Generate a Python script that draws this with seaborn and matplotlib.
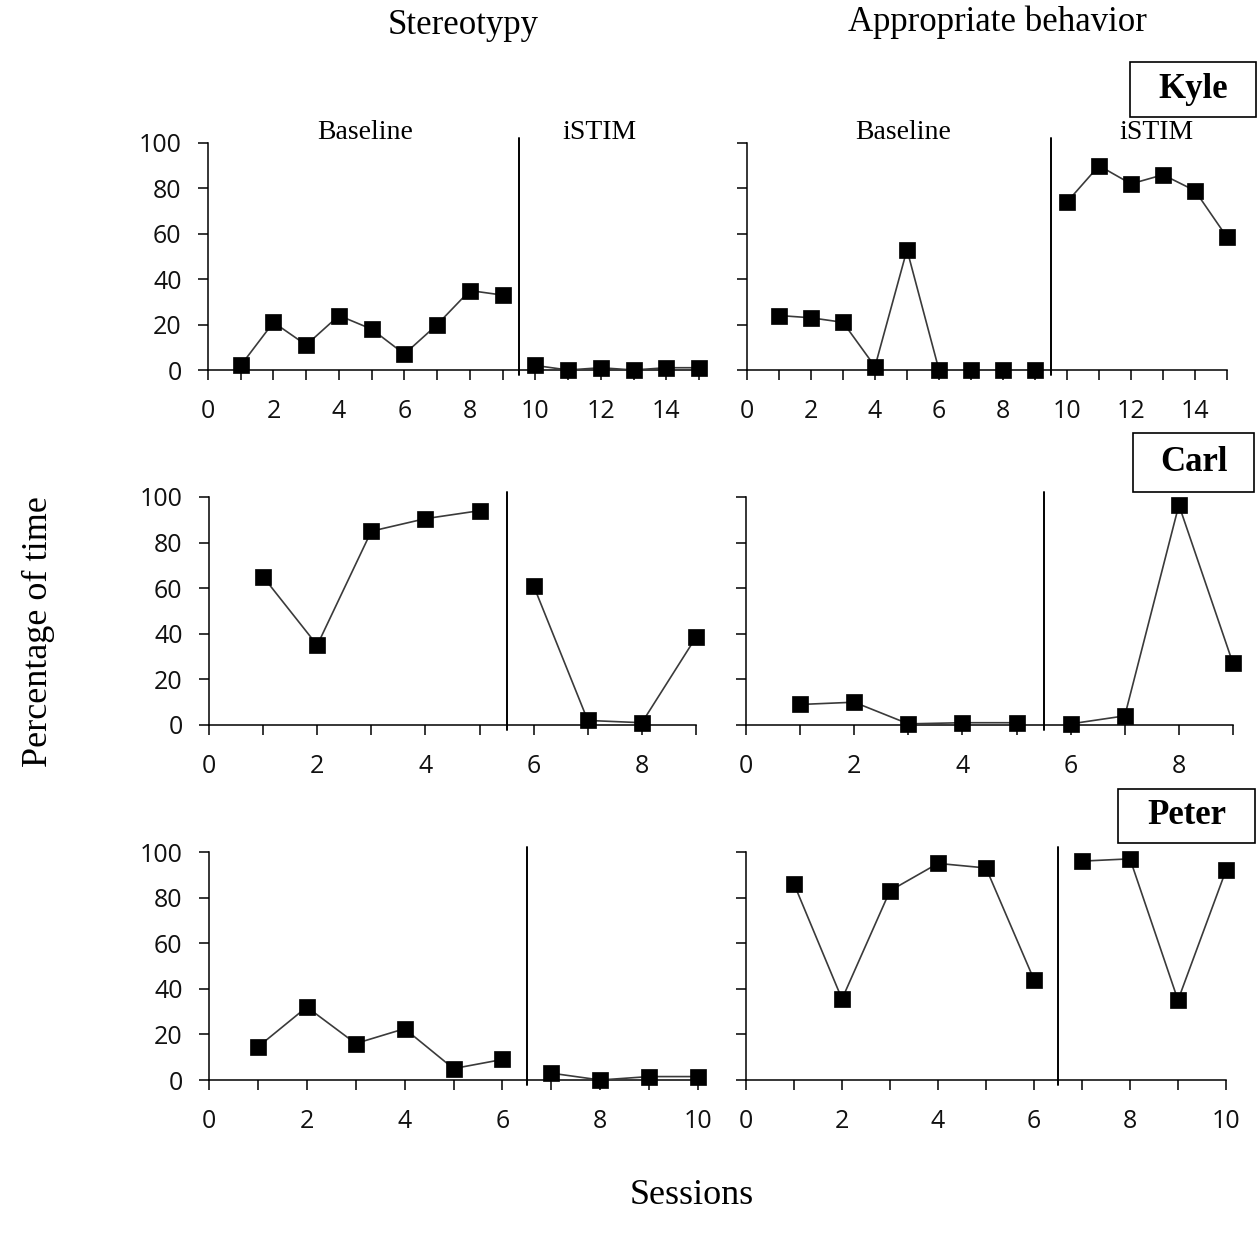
import matplotlib
matplotlib.use("Agg")
import matplotlib.pyplot as plt
from matplotlib.patches import Rectangle
import seaborn as sns
import pandas as pd

sns.set_style("ticks")
plt.rcParams["font.family"] = ["Open Sans", "DejaVu Sans"]
plt.rcParams["text.color"] = "black"

# ---------------- data ----------------
participants = ["Kyle", "Carl", "Peter"]
columns = ["Stereotypy", "Appropriate behavior"]
phase_names = ["Baseline", "iSTIM"]

kyle_base_sessions = [1, 2, 3, 4, 5, 6, 7, 8, 9]
kyle_istim_sessions = [10, 11, 12, 13, 14, 15]
kyle_stereo_base = [2, 21, 11, 24, 18, 7, 20, 35, 33]
kyle_stereo_istim = [2, 0, 1, 0, 1, 1]
kyle_approp_base = [24, 23, 21, 1.5, 53, 0, 0, 0, 0]
kyle_approp_istim = [74, 90, 82, 86, 79, 58.5]

carl_base_sessions = [1, 2, 3, 4, 5]
carl_istim_sessions = [6, 7, 8, 9]
carl_stereo_base = [65, 35, 85, 90.5, 94]
carl_stereo_istim = [61, 2, 1, 38.5]
carl_approp_base = [9, 10, 0.5, 1, 1]
carl_approp_istim = [0.5, 4, 96.5, 27]

peter_base_sessions = [1, 2, 3, 4, 5, 6]
peter_istim_sessions = [7, 8, 9, 10]
peter_stereo_base = [14.5, 32, 16, 22.5, 5, 9]
peter_stereo_istim = [3, 0, 1.5, 1.5]
peter_approp_base = [86, 35.5, 83, 95, 93, 44]
peter_approp_istim = [96, 97, 35, 92]

x_max = [15, 9, 10]
phase_change = [9.5, 5.5, 6.5]

sessions = [
    (kyle_base_sessions, kyle_istim_sessions),
    (carl_base_sessions, carl_istim_sessions),
    (peter_base_sessions, peter_istim_sessions),
]
values = [
    [(kyle_stereo_base, kyle_stereo_istim), (kyle_approp_base, kyle_approp_istim)],
    [(carl_stereo_base, carl_stereo_istim), (carl_approp_base, carl_approp_istim)],
    [(peter_stereo_base, peter_stereo_istim), (peter_approp_base, peter_approp_istim)],
]

# ---------------- layout ----------------
W, H = 1259, 1243
fig = plt.figure(figsize=(W / 100, H / 100), dpi=100)

def fx(px):
    return px / W

def fy(py):
    return 1 - py / H

# (left px, right px, top px, bottom px)
ax_boxes = [
    [(208, 699, 143, 370), (747, 1227, 143, 370)],
    [(209, 696, 497, 725), (746, 1233, 497, 725)],
    [(209, 698, 852, 1080), (746, 1226, 852, 1080)],
]

tick_family = ["Open Sans", "DejaVu Sans"]
serif = ["Liberation Serif", "DejaVu Serif"]

for r in range(3):
    for c in range(2):
        l, rt, t, b = ax_boxes[r][c]
        ax = fig.add_axes([fx(l), fy(b), fx(rt) - fx(l), (b - t) / H])
        for p in range(2):
            df = pd.DataFrame({"Session": sessions[r][p], "Percent": values[r][c][p]})
            sns.lineplot(data=df, x="Session", y="Percent", ax=ax, color="#3a3a3a",
                         linewidth=1.2, marker="s", markersize=12,
                         markerfacecolor="black", markeredgecolor="black",
                         markeredgewidth=0.5, estimator=None, sort=False,
                         clip_on=False, zorder=3)
        ax.axvline(phase_change[r], ymin=-0.02, ymax=1.02, color="black",
                   linewidth=1.4, clip_on=False, zorder=2)
        ax.set_xlim(0, x_max[r])
        ax.set_ylim(0, 100)
        ax.set_xticks(range(0, x_max[r] + 1))
        ax.set_xticklabels([str(v) if v % 2 == 0 else "" for v in range(0, x_max[r] + 1)])
        ax.set_yticks(range(0, 101, 20))
        if c == 0:
            ax.set_yticklabels([str(v) for v in range(0, 101, 20)])
        else:
            ax.set_yticklabels([])
        ax.set_xlabel("")
        ax.set_ylabel("")
        for s in ["top", "right"]:
            ax.spines[s].set_visible(False)
        for s in ["left", "bottom"]:
            ax.spines[s].set_linewidth(1.1)
            ax.spines[s].set_color("black")
        ax.tick_params(axis="both", direction="out", length=7, width=1.1,
                       color="black", labelsize=18, labelcolor="#111111")
        ax.tick_params(axis="y", pad=12)
        ax.tick_params(axis="x", pad=14)
        for lab in ax.get_xticklabels() + ax.get_yticklabels():
            lab.set_family(tick_family)
        if r == 0:
            base_x = 4.8 if c == 0 else 4.87
            istim_x = 11.95 if c == 0 else 12.8
            ax.text(base_x, 104.5, phase_names[0], ha="center", va="center",
                    family=serif, fontsize=20)
            ax.text(istim_x, 104.5, phase_names[1], ha="center", va="center",
                    family=serif, fontsize=20)

# column titles
fig.text(fx(463), fy(25), columns[0], ha="center", va="center", family=serif, fontsize=25)
fig.text(fx(997), fy(22), columns[1], ha="center", va="center", family=serif, fontsize=25)
fig.text(fx(38), fy(632), "Percentage of time", ha="center", va="center",
         rotation=90, family=serif, fontsize=26)
fig.text(fx(692), fy(1195), "Sessions", ha="center", va="center", family=serif, fontsize=26)

# participant name boxes (left, right, top, bottom in px)
name_boxes = [(1130, 1256, 62, 117), (1133, 1254, 433, 492), (1118, 1255, 789, 843)]
for name, (l, rt, t, b) in zip(participants, name_boxes):
    fig.patches.append(Rectangle((fx(l), fy(b)), fx(rt) - fx(l), (b - t) / H,
                                 transform=fig.transFigure, facecolor="white",
                                 edgecolor="black", linewidth=1.2))
    fig.text(fx((l + rt) / 2), fy((t + b) / 2), name, ha="center", va="center",
             family=serif, fontsize=25, fontweight="bold")

fig.savefig("out.png", dpi=100, facecolor="white")
